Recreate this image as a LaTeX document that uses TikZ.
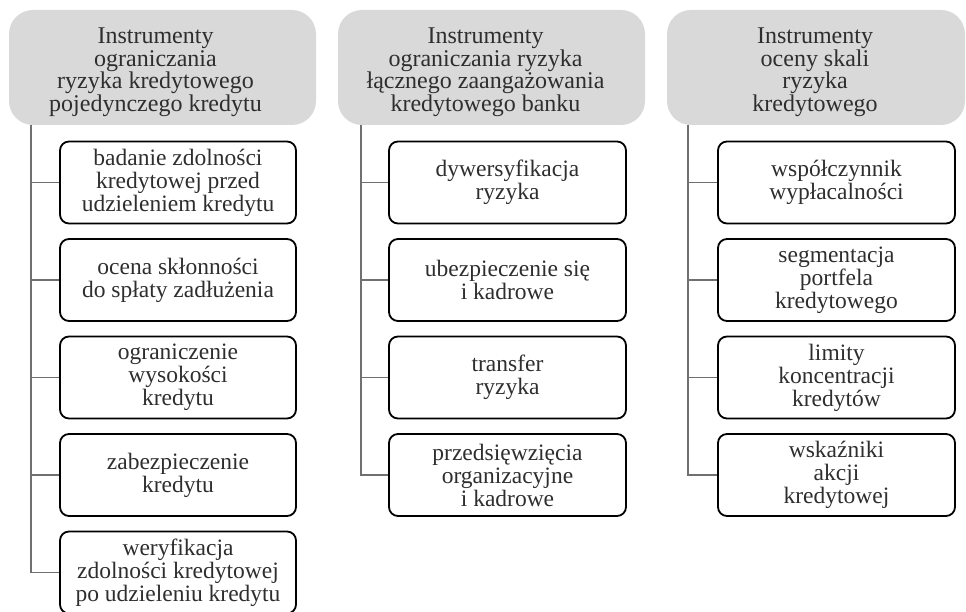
\documentclass[tikz,border=0pt]{standalone}
\usepackage{fontspec}
\setmainfont{Liberation Serif}
\begin{document}
\begin{tikzpicture}[x=1pt,y=-1pt,
  hdr/.style={fill=hdrgray, rounded corners=24pt, minimum height=115pt, inner sep=0pt},
  hdrtext/.style={inner sep=0pt, align=center, text=txtgray, font=\fontsize{24}{22.5}\selectfont},
  item/.style={draw=black, line width=1.8pt, rounded corners=9pt, minimum width=236pt,
    minimum height=82pt, inner sep=0pt, align=center, text=txtgray,
    font=\fontsize{23.5}{23}\selectfont},
  conn/.style={draw=conngray, line width=1.6pt}]
\definecolor{hdrgray}{HTML}{D9D9D9}
\definecolor{txtgray}{HTML}{2E2E2E}
\definecolor{conngray}{HTML}{707070}
\useasboundingbox (0,0) rectangle (966,612);
% headers
\node[hdr, minimum width=307pt] (h1) at (162.5,67.5) {};
\node[hdr, minimum width=307pt] (h2) at (491.5,67.5) {};
\node[hdr, minimum width=298pt] (h3) at (816,67.5) {};
\node[hdrtext] (h1t) at (155.5,72) {Instrumenty\\ograniczania\\ryzyka kredytowego\\pojedynczego kredytu};
\node[hdrtext] (h2t) at (485.5,72) {Instrumenty\\ograniczania ryzyka\\łącznego zaangażowania\\kredytowego banku};
\node[hdrtext] (h3t) at (815,72) {Instrumenty\\oceny skali\\ryzyka\\kredytowego};
% trunk starts
\coordinate (t1) at (31,125);
\coordinate (t2) at (361,125);
\coordinate (t3) at (688,125);
% column 1
\node[item] (a1) at (178,182.5) {badanie zdolności\\kredytowej przed\\udzieleniem kredytu};
\node[item] (a2) at (178,280) {ocena skłonności\\do spłaty zadłużenia};
\node[item] (a3) at (178,377.5) {ograniczenie\\wysokości\\kredytu};
\node[item] (a4) at (178,475) {zabezpieczenie\\kredytu};
\node[item] (a5) at (178,572.5) {weryfikacja\\zdolności kredytowej\\po udzieleniu kredytu};
% column 2
\node[item, minimum width=237pt] (b1) at (507.5,182.5) {dywersyfikacja\\ryzyka};
\node[item, minimum width=237pt] (b2) at (507.5,280) {ubezpieczenie się\\i kadrowe};
\node[item, minimum width=237pt] (b3) at (507.5,377.5) {transfer\\ryzyka};
\node[item, minimum width=237pt] (b4) at (507.5,475) {przedsięwzięcia\\organizacyjne\\i kadrowe};
% column 3
\node[item, minimum width=237pt] (c1) at (836.5,182.5) {współczynnik\\wypłacalności};
\node[item, minimum width=237pt] (c2) at (836.5,280) {segmentacja\\portfela\\kredytowego};
\node[item, minimum width=237pt] (c3) at (836.5,377.5) {limity\\koncentracji\\kredytów};
\node[item, minimum width=237pt] (c4) at (836.5,475) {wskaźniki\\akcji\\kredytowej};
% connectors
\foreach \n in {a1,a2,a3,a4,a5} \draw[conn] (t1) |- (\n.west);
\foreach \n in {b1,b2,b3,b4} \draw[conn] (t2) |- (\n.west);
\foreach \n in {c1,c2,c3,c4} \draw[conn] (t3) |- (\n.west);
\end{tikzpicture}
\end{document}
